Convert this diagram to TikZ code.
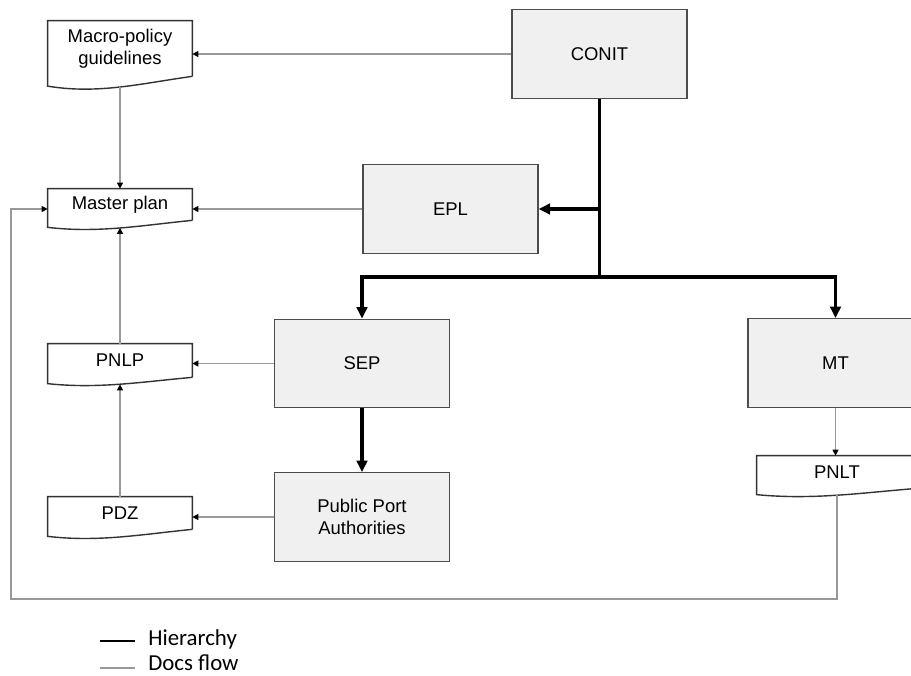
\documentclass[tikz,border=0pt]{standalone}
\usepackage{fontspec}
\setmainfont{Liberation Sans}
\newfontfamily\legendfont{Carlito}
\usetikzlibrary{calc,arrows.meta,positioning}

\begin{document}
\begin{tikzpicture}[x=0.02cm,y=-0.02cm]
\fontsize{10.5}{12.5}\selectfont
\tikzstyle{unit}=[rectangle, draw=black!70, line width=0.8pt, fill=black!6, minimum width=3.5cm, minimum height=1.77cm, inner sep=0pt, align=center]
\tikzstyle{doc}=[rectangle, minimum width=2.88cm, inner sep=0pt, align=center]
\tikzstyle{docline}=[draw=black!80, line width=0.8pt]
\tikzstyle{flow}=[draw=black!40, line width=0.6pt, -{Triangle[length=3.5pt,width=3.5pt,color=black]}]
\tikzstyle{hier}=[draw=black, line width=1.8pt]
\tikzstyle{hierarrow}=[hier, -{Triangle[length=6.5pt,width=6pt]}]
\useasboundingbox (0,0) rectangle (911,675);
% organisations
\foreach \name/\txt/\x/\y in {conit/CONIT/599.5/54, epl/EPL/450.5/209, sep/SEP/362/363.5, ppa/{Public Port\\Authorities}/362/517, mt/MT/835.5/363}
    \node[unit] (\name) at (\x,\y) {\txt};
% documents
\foreach \name/\txt/\x/\y/\h in {mpg/{Macro-policy\\guidelines}/120/48.5/1.1, mp/Master plan/120/204.5/0.62, pnlp/PNLP/120/360.5/0.66, pdz/PDZ/120/513/0.64}
    \node[doc, minimum height=\h cm] (\name) at (\x,\y) {\txt};
\node[doc, minimum width=3.2cm, minimum height=0.64cm] (pnlt) at (837,472) {PNLT};
\foreach \n/\a in {mpg/14,mp/10,pnlp/9,pdz/10,pnlt/9}
    \draw[docline] (\n.south east) -- (\n.north east) -- (\n.north west) -- ($(\n.south west)+(0,0.7*\a)$)
        .. controls ($(\n.south west)!0.35!(\n.south east)+(0,1.3*\a)$) and ($(\n.south west)!0.65!(\n.south east)+(0,0.5*\a)$) .. (\n.south east);
% hierarchy
\coordinate (fork) at (599.5,277);
\draw[hier] (conit.south) -- (fork);
\draw[hierarrow] (fork) -| (sep.north);
\draw[hierarrow] (fork) -| (mt.north);
\draw[hierarrow] (conit.south |- epl.east) -- (epl.east);
\draw[hierarrow] (sep) -- (ppa);
% docs flow
\coordinate (back) at (11,599);
\draw[flow] (conit.west) -- (conit.west -| mpg.east);
\draw[flow] ([yshift=-0.21cm]mpg.south) -- (mp.north);
\draw[flow] (epl.west) -- (epl.west -| mp.east);
\draw[flow] (sep.west) -- (sep.west -| pnlp.east);
\draw[flow] (ppa.west) -- (ppa.west -| pdz.east);
\draw[flow] (pnlp.north) -- ([yshift=-0.15cm]mp.south);
\draw[flow] (pdz.north) -- ([yshift=-0.14cm]pnlp.south);
\draw[flow] (mt.south) -- (mt.south |- pnlt.north);
\draw[flow] ([yshift=-0.14cm]pnlt.south) |- (back) |- ([yshift=-0.09cm]mp.west);
% legend
\node[anchor=base west, inner sep=0pt, font=\legendfont\fontsize{13}{15}\selectfont] (hlab) at (148,645) {Hierarchy};
\node[anchor=base west, inner sep=0pt, font=\legendfont\fontsize{13}{15}\selectfont] (flab) at (148,670) {Docs flow};
\coordinate (h1) at (100,641);
\coordinate (f1) at (100,668);
\draw[hier, line width=1.5pt] (h1) -- (h1 -| 135,0);
\draw[draw=black!40, line width=0.6pt] (f1) -- (f1 -| 135,0);
\end{tikzpicture}
\end{document}
